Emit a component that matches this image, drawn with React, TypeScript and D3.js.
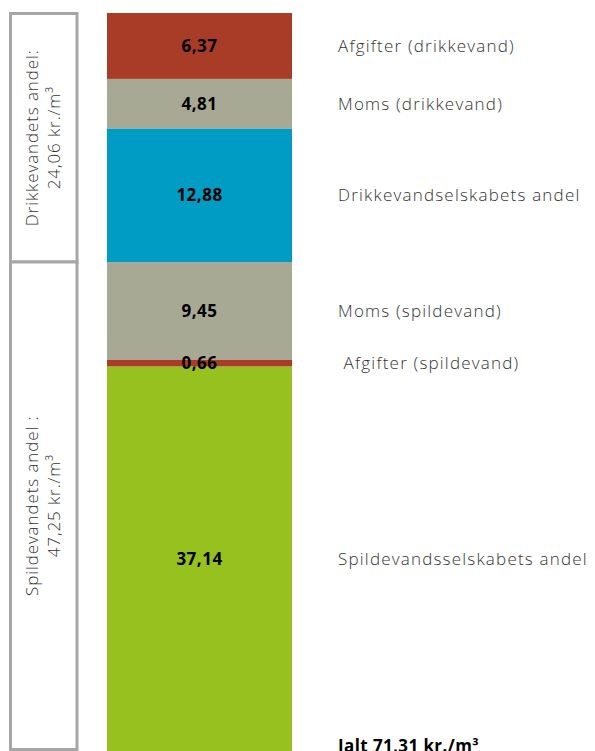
import React from "react";
import * as d3 from "d3";

const categories = [
  "Afgifter (drikkevand)",
  "Moms (drikkevand)",
  "Drikkevandselskabets andel",
  "Moms (spildevand)",
  " Afgifter (spildevand)",
  "Spildevandsselskabets andel",
];
const values = [6.37, 4.81, 12.88, 9.45, 0.66, 37.14];
const valueLabels = ["6,37", "4,81", "12,88", "9,45", "0,66", "37,14"];
const colors = ["#a83c27", "#a8a995", "#009cc3", "#a8a995", "#a83c27", "#96c11f"];
const groupLines = [
  ["Drikkevandets andel:", "24,06 kr./m³"],
  ["Spildevandets andel :", "47,25 kr./m³"],
];
const groupRanges = [
  [0, 24.06],
  [24.06, 71.31],
];
const totalLabel = "Ialt 71,31 kr./m³";

export default function App() {
  const W = 595, H = 751;
  const total = d3.sum(values);
  const y = d3.scaleLinear().domain([0, total]).range([13, 751]);
  const x0 = 107, x1 = 292;
  let acc = 0;
  const segs = values.map((v, i) => {
    const s = { i, y0: acc, y1: acc + v };
    acc += v;
    return s;
  });
  const font = "'Open Sans', 'Lato', sans-serif";
  return (
    <svg width={W} height={H} style={{ position: "absolute", left: 0, top: 0 }}>
      <rect width={W} height={H} fill="#fff" />
      {groupRanges.map((g, gi) => {
        const top = y(g[0]) + (gi === 0 ? 0.5 : 0);
        const bot = gi === 1 ? 749.5 : y(g[1]);
        const cy = (top + bot) / 2;
        return (
          <g key={gi}>
            <rect x={10.5} y={top} width={66.5} height={bot - top} fill="#fff" stroke="#a6a6a6" strokeWidth={3} />
            <text
              transform={`translate(43.5,${cy}) rotate(-90)`}
              textAnchor="middle"
              fontFamily={font}
              fontWeight={300}
              fontSize={17}
              letterSpacing={0.9}
              fill="#333"
            >
              <tspan x={0} dy={-6}>{groupLines[gi][0]}</tspan>
              <tspan x={0} dy={22}>{groupLines[gi][1]}</tspan>
            </text>
          </g>
        );
      })}
      {segs.map((s) => (
        <rect key={s.i} x={x0} width={x1 - x0} y={y(s.y0)} height={y(s.y1) - y(s.y0)} fill={colors[s.i]} />
      ))}
      {segs.map((s) => {
        const cy = (y(s.y0) + y(s.y1)) / 2;
        return (
          <g key={"l" + s.i}>
            <text x={(x0 + x1) / 2} y={cy} dy="0.35em" textAnchor="middle" fontFamily={font} fontWeight={700} fontSize={17} letterSpacing={0.5} fill="#000">
              {valueLabels[s.i]}
            </text>
            <text x={338} y={cy} dy="0.35em" fontFamily={font} fontWeight={300} fontSize={17} letterSpacing={1.2} fill="#333" style={{ whiteSpace: "pre" }}>
              {categories[s.i]}
            </text>
          </g>
        );
      })}
      <text x={338} y={752} fontFamily={font} fontWeight={700} fontSize={17} letterSpacing={0.4} fill="#000">
        {totalLabel}
      </text>
    </svg>
  );
}
